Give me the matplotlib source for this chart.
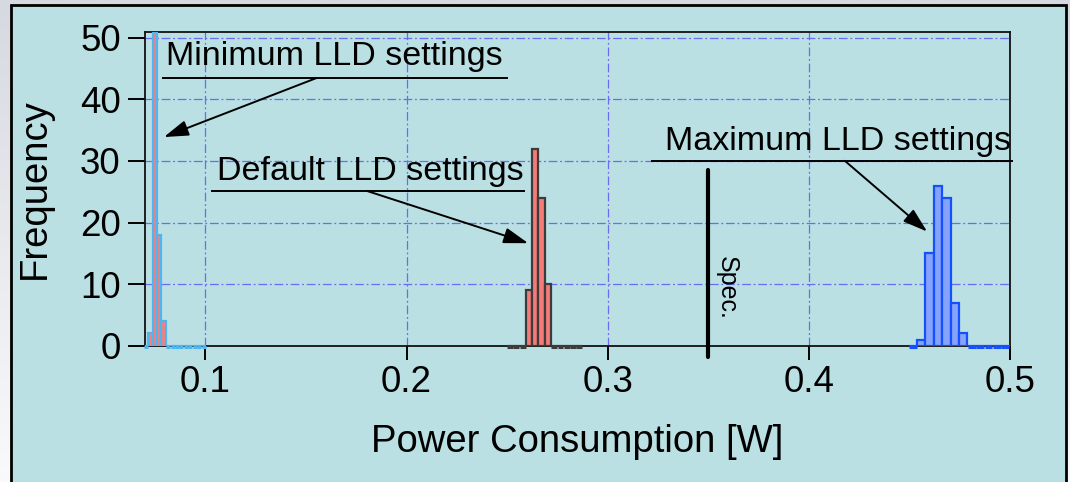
import numpy as np
import matplotlib
matplotlib.use("Agg")
import matplotlib.pyplot as plt
from matplotlib.patches import Rectangle
from matplotlib.colors import LinearSegmentedColormap

plt.rcParams["font.family"] = ["Liberation Sans", "DejaVu Sans"]

# Histograms of power consumption: first bin edge, bin width, counts per bin
min_start, min_width = 0.0694, 0.0022
min_counts = [0, 2, 51, 18, 4, 0, 0, 0, 0, 0, 0, 0, 0, 0]

def_start, def_width = 0.2499, 0.00313
def_counts = [0, 0, 0, 9, 32, 24, 10, 0, 0, 0, 0, 0]

max_start, max_width = 0.4496, 0.00418
max_counts = [0, 1, 15, 26, 24, 7, 2, 0, 0, 0, 0, 0]

spec_limit = 0.35
spec_top = 28.6

x_ticks = [0.1, 0.2, 0.3, 0.4, 0.5]
x_tick_labels = ["0.1", "0.2", "0.3", "0.4", "0.5"]
y_ticks = [0, 10, 20, 30, 40, 50]
y_tick_labels = ["0", "10", "20", "30", "40", "50"]

W, H = 1070, 482
fig = plt.figure(figsize=(W / 100, H / 100), dpi=100)

# soft grey backdrop behind the panel
bg = fig.add_axes([0, 0, 1, 1], zorder=-10)
grad = np.linspace(0, 1, 256).reshape(-1, 1)
cmap_bg = LinearSegmentedColormap.from_list("bg", ["#d6d9df", "#fafafc"])
bg.imshow(grad, extent=[0, 1, 0, 1], aspect="auto", cmap=cmap_bg, origin="upper")
bg.set_axis_off()

panel = Rectangle((11 / W, -0.05), (1066 - 11) / W, 1 - 5 / H + 0.05,
                  transform=fig.transFigure, facecolor="#bae0e3",
                  edgecolor="black", linewidth=2.0, zorder=-5)
fig.add_artist(panel)

ax = fig.add_axes([145 / W, 1 - 345.7 / H, (1010 - 145) / W, (345.7 - 31.7) / H])
ax.set_facecolor("#bae0e3")
ax.set_xlim(0.07, 0.5)
ax.set_ylim(0, 51)


def draw_hist(start, width, counts, fill, edge):
    counts = np.asarray(counts)
    edges = start + width * np.arange(len(counts))
    ax.bar(edges, counts, width=width, align="edge", color=fill,
           edgecolor=edge, linewidth=1.6, zorder=3)
    # empty bins show up as a line along the baseline
    empty = counts == 0
    ax.hlines(np.full(empty.sum(), -0.2), edges[empty] + width * 0.04,
              edges[empty] + width * 0.96, colors=edge, linewidth=2.2,
              zorder=3, clip_on=False)


draw_hist(min_start, min_width, min_counts, "#f57f7c", "#4db5ef")
draw_hist(def_start, def_width, def_counts, "#f47b78", "#3c3c3c")
draw_hist(max_start, max_width, max_counts, "#86a3fb", "#1550ff")

# specification limit
ax.plot([spec_limit, spec_limit], [-1.8, spec_top], color="black", lw=3.0,
        solid_capstyle="round", clip_on=False, zorder=4)
ax.text(0.3590, 9.46, "Spec.", rotation=-90, ha="center", va="center",
        fontsize=18)

# grid, ticks and spines
ax.set_axisbelow(True)
ax.grid(True, color="#6b6bf5", linestyle=(0, (7, 2.2, 1.5, 2.2)), linewidth=0.9)
ax.set_xticks(x_ticks)
ax.set_xticklabels(x_tick_labels)
ax.set_yticks(y_ticks)
ax.set_yticklabels(y_tick_labels)
ax.tick_params(axis="x", direction="out", length=10, width=1.4, pad=4,
               labelsize=26.5, colors="black")
ax.tick_params(axis="y", direction="out", length=12, width=1.4, pad=5.5,
               labelsize=26.5, colors="black")
for s in ax.spines.values():
    s.set_linewidth(1.3)
    s.set_color("#111111")

ax.set_xlabel("Power Consumption [W]", fontsize=27.5)
ax.xaxis.label.set_va("baseline")
ax.xaxis.set_label_coords(0.5, -(452 - 345.7) / 314)
ax.set_ylabel("Frequency", fontsize=27.5)
ax.yaxis.set_label_coords(-0.106, 0.5)

# callouts: label, underline and arrow
callouts = [
    ("Minimum LLD settings", 0.0804, 45.64, (0.0791, 0.2498, 43.48), (0.1553, 43.48), (0.0794, 33.89)),
    ("Default LLD settings", 0.1056, 26.94, (0.1032, 0.2585, 25.15), (0.1802, 25.15), (0.2605, 16.65)),
    ("Maximum LLD settings", 0.3285, 31.82, (0.3218, 0.5008, 30.03), (0.4179, 30.03), (0.4588, 18.54)),
]
for text, tx, ty, (ux0, ux1, uy), start, tip in callouts:
    ax.text(tx, ty, text, fontsize=24.5, ha="left", va="baseline", zorder=5)
    ax.plot([ux0, ux1], [uy, uy], color="black", lw=1.4, clip_on=False, zorder=5)
    ax.annotate("", xy=tip, xytext=start,
                arrowprops=dict(arrowstyle="-|>,head_length=0.75,head_width=0.24",
                                color="black", lw=1.4, shrinkA=0, shrinkB=0,
                                mutation_scale=20), zorder=5)

fig.savefig("out.png", dpi=100)
